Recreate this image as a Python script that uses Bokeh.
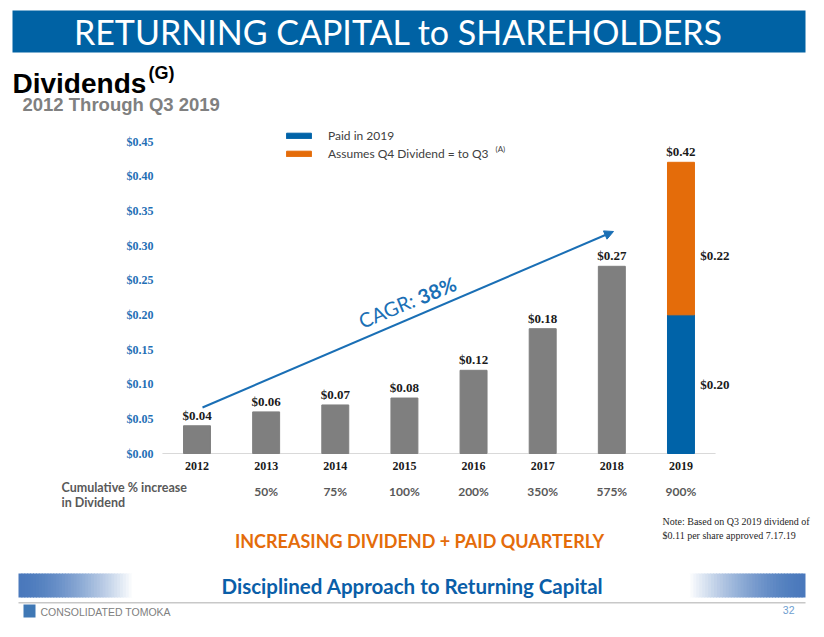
from bokeh.plotting import figure
from bokeh.models import (ColumnDataSource, Range1d, Label, LabelSet,
                          BoxAnnotation, Arrow, NormalHead, NumeralTickFormatter,
                          Legend, LegendItem, FixedTicker, LinearAxis)
from bokeh.core.properties import value
from bokeh.embed import file_html
from bokeh.resources import INLINE

# ---------------- data ----------------
years = ["2012", "2013", "2014", "2015", "2016", "2017", "2018", "2019"]
hist_dividends = [0.04, 0.06, 0.07, 0.08, 0.12, 0.18, 0.27]
paid_2019 = 0.20
assumed_q4_2019 = 0.22
total_2019 = 0.42
cum_increase = ["", "50%", "75%", "100%", "200%", "350%", "575%", "900%"]
y_ticks = [0.00, 0.05, 0.10, 0.15, 0.20, 0.25, 0.30, 0.35, 0.40, 0.45]
cagr_text = "38%"

W, H = 816, 629
# pixel geometry of the chart inside the canvas
X0_PX, DX_PX = 196.5, 69.14      # centre of first category, spacing
Y0_PX, DY_PX = 453.0, 693.33     # baseline, px per dollar

def SX(X):
    return X

def SY(Y):
    return H - Y

xpos = list(range(len(years)))
hist_x = xpos[:len(hist_dividends)]
x2019 = xpos[-1]

p = figure(x_range=Range1d(-X0_PX / DX_PX, (W - X0_PX) / DX_PX),
           y_range=Range1d(-(H - Y0_PX) / DY_PX, Y0_PX / DY_PX),
           width=W, height=H, output_backend="svg", toolbar_location=None,
           x_axis_location=None, y_axis_location=None,
           min_border=0, min_border_left=0, min_border_right=0,
           min_border_top=0, min_border_bottom=0)
p.outline_line_color = None
p.xgrid.grid_line_color = None
p.ygrid.grid_line_color = None
p.background_fill_color = "white"
p.border_fill_color = "white"

SERIF = "Liberation Serif"
SANS = "Lato"

# axes placed at fixed locations inside the canvas
yax = LinearAxis(fixed_location=-0.5, ticker=FixedTicker(ticks=y_ticks),
                 formatter=NumeralTickFormatter(format="$0.00"))
yax.axis_line_color = None
yax.major_tick_line_color = None
yax.minor_tick_line_color = None
yax.major_label_standoff = 3
yax.major_label_text_font = SERIF
yax.major_label_text_font_style = "bold"
yax.major_label_text_font_size = "12px"
yax.major_label_text_color = "#1f6fb5"
p.add_layout(yax, "left")

xax = LinearAxis(fixed_location=0, ticker=FixedTicker(ticks=xpos),
                 major_label_overrides={i: y for i, y in zip(xpos, years)})
xax.axis_line_color = None
xax.major_tick_line_color = None
xax.minor_tick_line_color = None
xax.major_label_standoff = 2
xax.major_label_text_font = SERIF
xax.major_label_text_font_style = "bold"
xax.major_label_text_font_size = "12px"
xax.major_label_text_color = "#1a1a1a"
p.add_layout(xax, "below")

# baseline
p.segment(x0=[xpos[0] - 0.5], y0=[0], x1=[xpos[-1] + 0.5], y1=[0],
          line_color="#d9d9d9", line_width=1)

# bars
gray = p.vbar(x=hist_x, top=hist_dividends, width=0.39, color="#7f7f7f")
blue = p.vbar(x=[x2019], bottom=0, top=paid_2019, width=0.39, color="#0063a8")
orange = p.vbar(x=[x2019], bottom=paid_2019, top=total_2019, width=0.39, color="#e46c0a")

# value labels
lab_src = ColumnDataSource(dict(x=hist_x + [x2019],
                                y=hist_dividends + [total_2019],
                                t=["$%.2f" % v for v in hist_dividends + [total_2019]]))
p.add_layout(LabelSet(x="x", y="y", text="t", source=lab_src, y_offset=3,
                      text_align="center", text_baseline="bottom",
                      text_font=value(SERIF), text_font_style="bold",
                      text_font_size="13px", text_color="#1a1a1a"))
side_src = ColumnDataSource(dict(x=[x2019, x2019],
                                 y=[paid_2019 / 2, 0.285],
                                 t=["$%.2f" % paid_2019, "$%.2f" % assumed_q4_2019]))
p.add_layout(LabelSet(x="x", y="y", text="t", source=side_src, x_offset=34,
                      text_align="center", text_baseline="middle",
                      text_font=value(SERIF), text_font_style="bold",
                      text_font_size="13px", text_color="#1a1a1a"))

# legend
legend = Legend(items=[LegendItem(label="Paid in 2019", renderers=[blue]),
                       LegendItem(label="Assumes Q4 Dividend = to Q3", renderers=[orange])],
                location=(SX(283), SY(161)), orientation="vertical",
                glyph_width=31, glyph_height=7, label_height=13,
                label_standoff=14, spacing=3, padding=0, margin=0,
                label_text_font=SANS, label_text_font_size="12px",
                label_text_color="#404040", border_line_color=None,
                background_fill_alpha=0)
p.add_layout(legend)
p.add_layout(Label(x=SX(495), y=SY(148), x_units="screen", y_units="screen",
                   text="(A)", text_font=SANS, text_font_size="8px",
                   text_color="#404040", text_baseline="middle"))

# CAGR arrow
p.add_layout(Arrow(x_start=SX(202), y_start=SY(407), x_end=SX(613), y_end=SY(231),
                   start_units="screen", end_units="screen",
                   line_color="#1a6fb5", line_width=2,
                   end=NormalHead(size=9, fill_color="#1a6fb5", line_color="#1a6fb5")))
ang = 0.396
p.add_layout(Label(x=SX(359), y=SY(321), x_units="screen", y_units="screen",
                   text="CAGR: ", angle=ang, text_font=SANS, text_font_size="20px",
                   text_color="#1a6fb5", text_baseline="middle", text_align="left"))
p.add_layout(Label(x=SX(418), y=SY(297), x_units="screen", y_units="screen",
                   text=cagr_text, angle=ang, text_font=SANS, text_font_style="bold",
                   text_font_size="20px", text_color="#1a6fb5",
                   text_baseline="middle", text_align="left"))

# cumulative row
cum_src = ColumnDataSource(dict(x=xpos, t=cum_increase))
p.add_layout(LabelSet(x="x", y=SY(491), y_units="screen", text="t", source=cum_src,
                      text_align="center", text_baseline="middle",
                      text_font=value(SANS), text_font_style="bold", text_font_size="12px",
                      text_color="#595959"))
for txt, yy in (("Cumulative % increase", 487), ("in Dividend", 502)):
    p.add_layout(Label(x=SX(61), y=SY(yy), x_units="screen", y_units="screen",
                       text=txt, text_font=SANS, text_font_style="bold",
                       text_font_size="12.5px", text_color="#595959",
                       text_baseline="middle"))

# header band
p.add_layout(BoxAnnotation(left=SX(12), right=SX(805), top=SY(10), bottom=SY(52),
                           left_units="screen", right_units="screen",
                           top_units="screen", bottom_units="screen",
                           fill_color="#0062a4", fill_alpha=1, line_color=None))
p.add_layout(Label(x=SX(398), y=SY(31), x_units="screen", y_units="screen",
                   text="RETURNING CAPITAL to SHAREHOLDERS", text_font=SANS,
                   text_font_size="34px", text_color="white",
                   text_align="center", text_baseline="middle"))

# titles
p.add_layout(Label(x=SX(12), y=SY(83), x_units="screen", y_units="screen",
                   text="Dividends", text_font="Liberation Sans", text_font_style="bold",
                   text_font_size="28px", text_color="black", text_baseline="middle"))
p.add_layout(Label(x=SX(148), y=SY(72), x_units="screen", y_units="screen",
                   text="(G)", text_font="Liberation Sans", text_font_style="bold",
                   text_font_size="18px", text_color="black", text_baseline="middle"))
p.add_layout(Label(x=SX(22), y=SY(104), x_units="screen", y_units="screen",
                   text="2012 Through Q3 2019", text_font="Liberation Sans",
                   text_font_style="bold", text_font_size="18.5px", text_color="#808080",
                   text_baseline="middle"))

# bottom texts
p.add_layout(Label(x=SX(419), y=SY(540), x_units="screen", y_units="screen",
                   text="INCREASING DIVIDEND + PAID QUARTERLY", text_font=SANS,
                   text_font_style="bold", text_font_size="18px", text_color="#e46c0a",
                   text_align="center", text_baseline="middle"))
for txt, yy in (("Note: Based on  Q3 2019 dividend of", 521),
                ("$0.11 per share approved 7.17.19", 535)):
    p.add_layout(Label(x=SX(662), y=SY(yy), x_units="screen", y_units="screen",
                       text=txt, text_font=SERIF, text_font_size="10px",
                       text_color="#262626", text_baseline="middle"))

# gradient bands
N = 40
def mix(c1, c2, t):
    return "#%02x%02x%02x" % tuple(int(round(a + (b - a) * t)) for a, b in zip(c1, c2))
bl = (74, 121, 188)
wh = (255, 255, 255)
for i in range(N):
    t = (i / (N - 1)) ** 1.6
    x0 = 18 + (134 - 18) * i / N
    x1 = 18 + (134 - 18) * (i + 1) / N
    p.add_layout(BoxAnnotation(left=SX(x0), right=SX(x1) + 1, top=SY(573), bottom=SY(597),
                               left_units="screen", right_units="screen",
                               top_units="screen", bottom_units="screen",
                               fill_color=mix(bl, wh, t), fill_alpha=1, line_color=None))
    x0 = 805 - (805 - 687) * (i + 1) / N
    x1 = 805 - (805 - 687) * i / N
    p.add_layout(BoxAnnotation(left=SX(x0) - 1, right=SX(x1), top=SY(573), bottom=SY(597),
                               left_units="screen", right_units="screen",
                               top_units="screen", bottom_units="screen",
                               fill_color=mix(bl, wh, t), fill_alpha=1, line_color=None))
p.add_layout(Label(x=SX(412), y=SY(585), x_units="screen", y_units="screen",
                   text="Disciplined Approach to Returning Capital", text_font=SANS,
                   text_font_style="bold", text_font_size="20.5px", text_color="#0a5ea8",
                   text_align="center", text_baseline="middle"))
p.add_layout(BoxAnnotation(left=SX(18), right=SX(805), top=SY(601.5), bottom=SY(603),
                           left_units="screen", right_units="screen",
                           top_units="screen", bottom_units="screen",
                           fill_color="#c8c8c8", fill_alpha=1, line_color=None))
p.add_layout(BoxAnnotation(left=SX(23), right=SX(35), top=SY(604), bottom=SY(617),
                           left_units="screen", right_units="screen",
                           top_units="screen", bottom_units="screen",
                           fill_color="#3f78b5", fill_alpha=1, line_color=None))
p.add_layout(Label(x=SX(40), y=SY(611), x_units="screen", y_units="screen",
                   text="CONSOLIDATED TOMOKA", text_font="Liberation Sans",
                   text_font_size="10.5px", text_color="#808080", text_baseline="middle"))
p.add_layout(Label(x=SX(794), y=SY(609), x_units="screen", y_units="screen",
                   text="32", text_font="Liberation Sans", text_align="right",
                   text_font_size="10.5px", text_color="#6fa0d0", text_baseline="middle"))

open("out.html", "w").write(file_html(p, INLINE))
